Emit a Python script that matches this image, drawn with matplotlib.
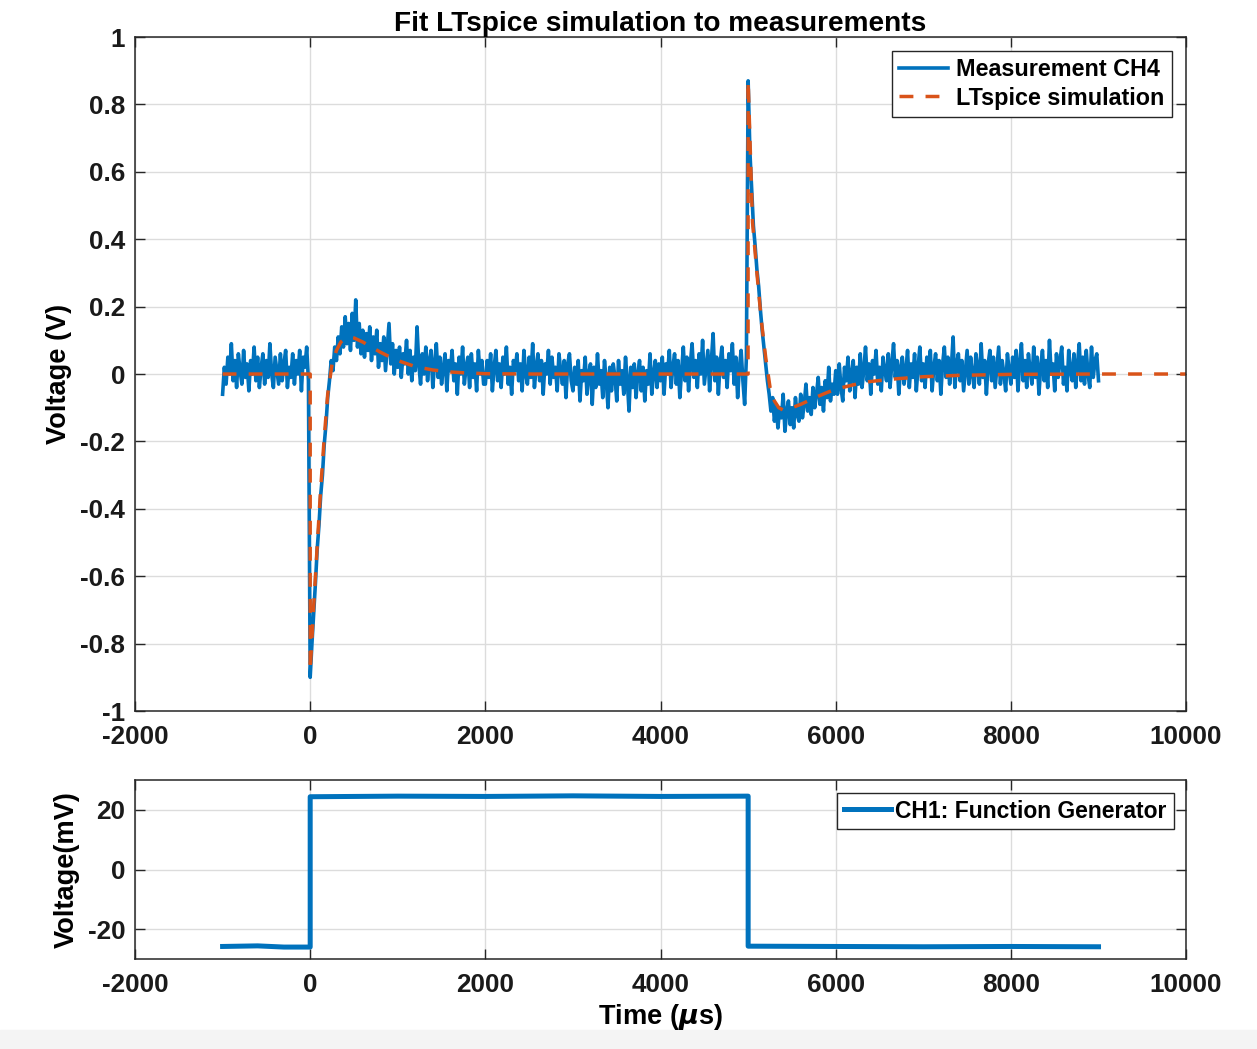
import numpy as np
import matplotlib.pyplot as plt
from matplotlib.patches import Rectangle

# Kleuren zoals MATLAB standaard
blauw = '#0072BD'
oranje = '#D95319'

t_meting = np.arange(-1000, 9001, 20)
v_meting = [
    # -1000 .. -20
    -0.06, 0.02, -0.03, 0.05, 0.00, 0.09, -0.02, 0.04, -0.04, 0.06,
    0.01, -0.03, 0.07, -0.01, 0.03, -0.05, 0.04, 0.00, 0.08, -0.02,
    0.05, -0.04, 0.02, 0.06, -0.03, 0.04, -0.01, 0.09, 0.00, -0.04,
    0.05, 0.01, -0.03, 0.06, -0.02, 0.03, 0.07, -0.04, 0.02, -0.01,
    0.06, -0.03, 0.04, 0.00, 0.07, -0.05, 0.05, 0.02, 0.08, -0.02,
    # 0 .. 980
    -0.90, -0.80, -0.71, -0.62, -0.52, -0.45, -0.36, -0.30, -0.21, -0.15,
    -0.07, -0.02, 0.04, 0.01, 0.08, 0.04, 0.11, 0.06, 0.14, 0.08,
    0.17, 0.09, 0.15, 0.07, 0.18, 0.10, 0.22, 0.08, 0.15, 0.06,
    0.13, 0.05, 0.12, 0.07, 0.14, 0.04, 0.11, 0.06, 0.13, 0.02,
    0.09, 0.04, 0.11, 0.01, 0.08, 0.15, 0.03, 0.09, 0.00, 0.07,
    # 1000 .. 1980
    0.02, 0.08, -0.01, 0.06, 0.03, 0.10, 0.00, 0.07, -0.02, 0.05,
    0.01, 0.14, 0.03, -0.03, 0.06, 0.00, 0.08, -0.02, 0.04, 0.07,
    -0.04, 0.03, 0.09, -0.01, 0.05, -0.03, 0.02, 0.06, -0.05, 0.04,
    0.01, 0.07, -0.02, 0.03, -0.06, 0.05, 0.00, 0.08, -0.03, 0.02,
    0.05, -0.04, 0.06, -0.01, 0.03, -0.05, 0.07, 0.00, 0.04, -0.03,
    # 2000 .. 2980
    -0.03, 0.04, -0.01, 0.06, -0.05, 0.02, 0.07, -0.02, 0.03, -0.04,
    0.05, 0.00, 0.08, -0.03, 0.02, -0.06, 0.04, 0.01, 0.06, -0.02,
    0.03, -0.05, 0.07, 0.00, -0.03, 0.05, -0.01, 0.09, -0.04, 0.02,
    0.06, -0.02, 0.04, -0.06, 0.03, 0.00, 0.07, -0.03, 0.05, -0.01,
    0.02, -0.05, 0.06, 0.01, -0.03, 0.04, -0.07, 0.03, 0.06, -0.02,
    # 3000 .. 3980
    -0.05, 0.02, -0.03, 0.04, -0.08, 0.01, -0.02, 0.05, -0.06, 0.00,
    0.03, -0.09, 0.02, -0.04, 0.06, -0.03, 0.01, -0.07, 0.04, -0.02,
    -0.10, 0.02, -0.05, 0.03, -0.01, -0.08, 0.04, -0.03, 0.01, -0.06,
    0.05, -0.02, -0.11, 0.02, -0.04, 0.03, -0.07, 0.00, 0.04, -0.05,
    0.02, -0.08, 0.01, -0.03, 0.06, -0.06, 0.00, 0.04, -0.04, 0.03,
    # 4000 .. 4980
    -0.02, 0.05, -0.06, 0.03, 0.00, 0.07, -0.04, 0.02, 0.06, -0.03,
    0.04, -0.07, 0.01, 0.08, -0.02, 0.05, -0.05, 0.03, 0.09, -0.01,
    0.04, -0.04, 0.06, 0.00, 0.10, -0.03, 0.02, 0.07, -0.05, 0.04,
    0.12, -0.02, 0.05, -0.06, 0.03, 0.08, -0.01, 0.04, -0.04, 0.06,
    0.01, 0.09, -0.03, 0.05, -0.07, 0.02, 0.07, -0.02, -0.09, 0.05,
    # 5000 .. 5980
    0.87, 0.66, 0.55, 0.44, 0.38, 0.31, 0.26, 0.19, 0.13, 0.08,
    0.03, -0.02, -0.06, -0.11, -0.07, -0.14, -0.09, -0.16, -0.10, -0.13,
    -0.06, -0.17, -0.11, -0.08, -0.15, -0.10, -0.16, -0.07, -0.12, -0.14,
    -0.06, -0.13, -0.09, -0.03, -0.11, -0.07, -0.12, -0.04, -0.10, -0.06,
    -0.01, -0.09, -0.04, -0.11, -0.02, -0.07, 0.02, -0.08, -0.03, -0.06,
    # 6000 .. 6980
    0.01, -0.06, 0.03, -0.04, -0.08, 0.02, -0.02, 0.05, -0.05, 0.00,
    0.04, -0.07, 0.02, -0.03, 0.06, -0.04, 0.01, 0.08, -0.02, 0.03,
    -0.06, 0.04, 0.00, 0.07, -0.03, 0.02, -0.05, 0.05, 0.01, -0.02,
    0.06, -0.04, 0.03, 0.09, -0.01, 0.04, -0.06, 0.02, 0.05, -0.03,
    0.01, 0.07, -0.04, 0.03, -0.01, 0.06, -0.05, 0.02, 0.08, -0.02,
    # 7000 .. 7980
    0.03, -0.04, 0.05, 0.00, 0.07, -0.05, 0.02, 0.06, -0.02, 0.04,
    -0.06, 0.03, 0.08, -0.01, 0.05, -0.03, 0.02, 0.11, -0.04, 0.03,
    0.06, -0.02, 0.04, -0.05, 0.01, 0.07, -0.03, 0.05, 0.00, -0.04,
    0.06, 0.02, -0.03, 0.09, -0.01, 0.04, -0.06, 0.03, 0.07, -0.02,
    0.05, -0.04, 0.02, 0.08, -0.03, 0.04, 0.00, -0.05, 0.06, 0.01,
    # 8000 .. 8980
    -0.03, 0.05, -0.01, 0.07, -0.05, 0.03, 0.09, -0.02, 0.04, -0.04,
    0.06, 0.01, -0.03, 0.08, -0.01, 0.05, -0.06, 0.02, 0.07, -0.02,
    0.04, -0.04, 0.10, 0.00, 0.03, -0.05, 0.06, -0.01, 0.04, 0.08,
    -0.03, 0.02, -0.05, 0.07, 0.01, -0.02, 0.06, -0.04, 0.03, 0.09,
    -0.02, 0.05, -0.03, 0.07, 0.00, -0.04, 0.08, -0.01, 0.04, 0.06,
    # 9000
    -0.02,
]

# LTspice simulatie
t_sim = [-1000, 0, 0, 40, 80, 120, 160, 200, 250, 300, 350, 400, 450, 500, 600, 700, 800,
         900, 1000, 1200, 1400, 1600, 1800, 2000, 2500, 3000, 4000, 4999, 5000, 5050, 5100,
         5150, 5200, 5250, 5300, 5350, 5400, 5450, 5500, 5600, 5700, 5800, 5900, 6000, 6200,
         6400, 6700, 7000, 7400, 8000, 9000, 10000]
v_sim = [0, 0, -0.88, -0.69, -0.51, -0.34, -0.19, -0.06, 0.03, 0.07, 0.095, 0.105, 0.11,
         0.107, 0.095, 0.08, 0.065, 0.052, 0.04, 0.022, 0.012, 0.006, 0.003, 0.001, 0, 0, 0,
         0, 0.87, 0.45, 0.30, 0.16, 0.05, -0.04, -0.08, -0.10, -0.107, -0.105, -0.10, -0.09,
         -0.078, -0.066, -0.055, -0.045, -0.032, -0.022, -0.014, -0.008, -0.004, -0.001, 0, 0]

# CH1 functiegenerator (mV)
t_ch1 = [-1000, -600, -300, 0, 0, 1000, 2000, 3000, 4000, 5000, 5000, 6000, 7000, 8000, 9000]
v_ch1 = [-25.8, -25.6, -26.0, -26.0, 24.4, 24.6, 24.5, 24.7, 24.5, 24.6, -25.7, -25.8,
         -25.9, -25.8, -25.9]

x_ticks = [-2000, 0, 2000, 4000, 6000, 8000, 10000]
y_ticks_boven = [-1, -0.8, -0.6, -0.4, -0.2, 0, 0.2, 0.4, 0.6, 0.8, 1]
y_labels_boven = ['-1', '-0.8', '-0.6', '-0.4', '-0.2', '0', '0.2', '0.4', '0.6', '0.8', '1']
y_ticks_onder = [-20, 0, 20]

plt.rcParams['font.family'] = ['Liberation Sans', 'DejaVu Sans']
plt.rcParams['font.weight'] = 'bold'
plt.rcParams['axes.unicode_minus'] = False

fig = plt.figure(figsize=(12.57, 10.49), dpi=100)
fig.patches.append(Rectangle((0, 0), 1, 0.018, transform=fig.transFigure,
                             color='#f4f4f4', zorder=-1))

ax1 = fig.add_axes([0.1074, 0.3222, 0.8362, 0.6425])
ax2 = fig.add_axes([0.1074, 0.0858, 0.8362, 0.1706])


def opmaak(ax):
    ax.grid(True, color='#dcdcdc', linewidth=1.0)
    ax.set_axisbelow(True)
    ax.tick_params(direction='in', length=7.5, width=1.0, color='#262626',
                   top=True, right=True, labelsize=18.8, labelcolor='#1a1a1a')
    ax.tick_params(axis='x', pad=10)
    ax.tick_params(axis='y', pad=7)
    for s in ax.spines.values():
        s.set_color('#262626')
        s.set_linewidth(1.1)
    ax.set_xlim(-2000, 10000)
    ax.set_xticks(x_ticks)
    for lab in ax.get_xticklabels() + ax.get_yticklabels():
        lab.set_fontweight('bold')


# Bovenste grafiek
ax1.plot(t_meting, v_meting, color=blauw, lw=2.6, label='Measurement CH4')
ax1.plot(t_sim, v_sim, color=oranje, lw=2.5, linestyle=(0, (4, 3.5)),
         label='LTspice simulation')
ax1.set_ylim(-1, 1)
ax1.set_yticks(y_ticks_boven)
ax1.set_yticklabels(y_labels_boven)
opmaak(ax1)
ax1.set_title('Fit LTspice simulation to measurements', fontsize=20.2,
              fontweight='bold', pad=4)
ax1.set_ylabel('Voltage (V)', fontsize=19.6, fontweight='bold', labelpad=6)
leg1 = ax1.legend(loc='upper right', fontsize=16.8, frameon=True, fancybox=False,
                  edgecolor='#262626', framealpha=1, borderaxespad=0.6,
                  handlelength=2.1, handletextpad=0.35, borderpad=0.32, labelspacing=0.22)
leg1.get_frame().set_linewidth(1.0)

# Onderste grafiek
ax2.plot(t_ch1, v_ch1, color=blauw, lw=3.6, label='CH1: Function Generator')
ax2.set_ylim(-30, 30)
ax2.set_yticks(y_ticks_onder)
opmaak(ax2)
ax2.set_xlabel('Time ($\\mu$s)', fontsize=19.6, fontweight='bold', labelpad=4)
ax2.set_ylabel('Voltage(mV)', fontsize=19.6, fontweight='bold', labelpad=6)
leg2 = ax2.legend(loc='upper right', fontsize=16.5, frameon=True, fancybox=False,
                  edgecolor='#262626', framealpha=1, borderaxespad=0.55,
                  handlelength=2.05, handletextpad=0.2, borderpad=0.3)
leg2.get_frame().set_linewidth(1.0)

fig.savefig('out.png', dpi=100)
